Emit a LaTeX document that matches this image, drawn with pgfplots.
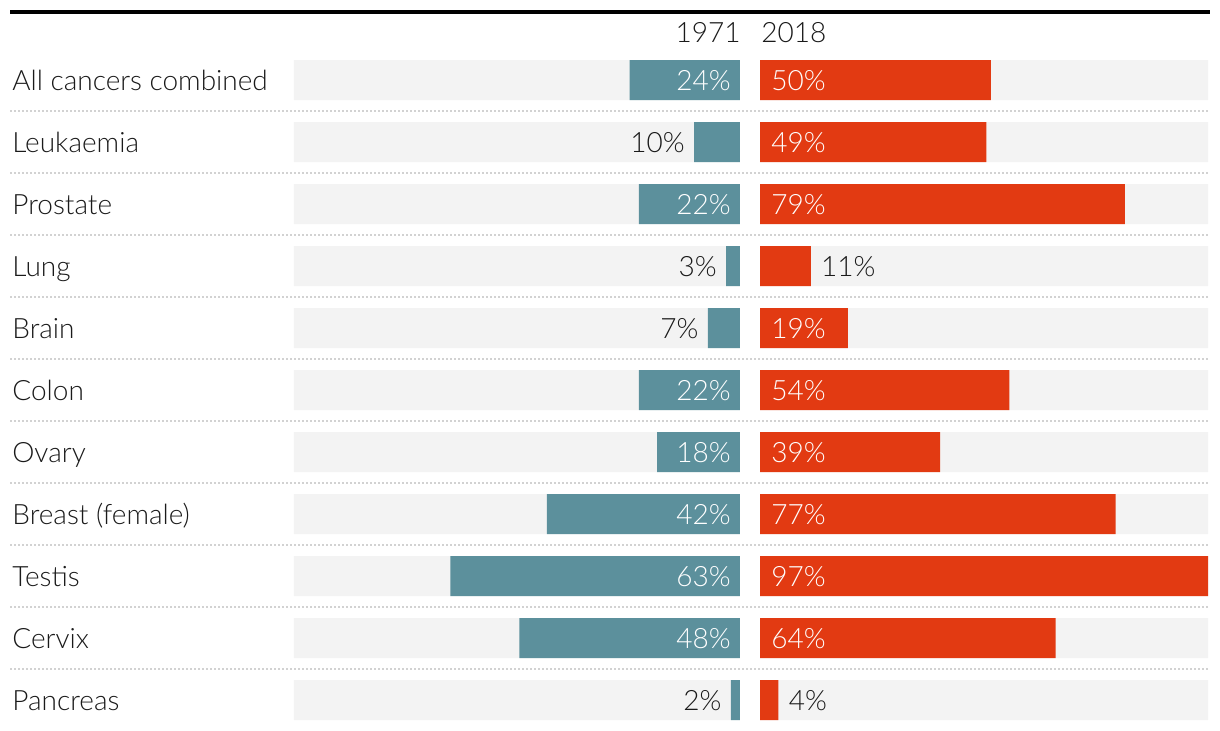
\documentclass[border=0pt]{standalone}
\usepackage{fontspec}
\setmainfont{Lato Light}
\usepackage{pgfplots}
\usepackage{pgfplotstable}
\pgfplotsset{compat=1.18}
\definecolor{teal71}{HTML}{5C909C}
\definecolor{red18}{HTML}{E23A12}
\definecolor{bgbar}{HTML}{F3F3F3}
\definecolor{sepc}{HTML}{D2D2D2}
\definecolor{txt}{HTML}{1A1A1A}
\newcommand{\lf}{\fontsize{14}{16}\selectfont}

% values per category (idx 0 = top row)
\pgfplotstableread{
idx v71 v18
0 24 50
1 10 49
2 22 79
3 3 11
4 7 19
5 22 54
6 18 39
7 42 77
8 63 97
9 48 64
10 2 4
}\data
% 1971 labels inside / outside the bar
\pgfplotstableread{
idx v
0 24
2 22
5 22
6 18
7 42
8 63
9 48
}\leftin
\pgfplotstableread{
idx v
1 10
3 3
4 7
10 2
}\leftout
% 2018 labels inside / outside the bar
\pgfplotstableread{
idx v
0 50
1 49
2 79
4 19
5 54
6 39
7 77
8 97
9 64
}\rightin
\pgfplotstableread{
idx v
3 11
10 4
}\rightout

\pgfplotsset{
  hbar/.style={xbar, bar width=0.64516, bar shift=0pt, draw=none},
  panel/.style={scale only axis, y dir=reverse, ymin=-0.32258, ymax=10.32258,
    xmin=0, xmax=97, height=330pt, anchor=south west,
    axis line style={draw=none}, xtick=\empty, major tick length=0pt,
    tick style={draw=none}, clip=false},
  lab/.style={draw=none, mark=none, nodes near coords={\pgfplotspointmeta\%},
    point meta=explicit symbolic,
    every node near coord/.append style={font=\lf, inner sep=0pt, yshift=-5pt}},
}

\begin{document}
\begin{tikzpicture}
% base axis in pixel coordinates
\begin{axis}[at={(0pt,0pt)}, anchor=south west, scale only axis,
  width=610pt, height=365pt, xmin=0, xmax=1220, ymin=0, ymax=730,
  y dir=reverse, hide axis, clip=false]
  \draw[line width=2pt, black] (axis cs:10,12) -- (axis cs:1210,12);
  \foreach \yy in {111,173,235,297,359,421,483,545,607,669}{
    \edef\tmp{\noexpand\draw[sepc, line width=1pt, dash pattern=on 1pt off 1pt]
      (axis cs:10,\yy) -- (axis cs:1210,\yy);}\tmp
  }
  \node[anchor=base east, inner sep=0pt, font=\lf, text=txt] at (axis cs:741,42) {1971};
  \node[anchor=base west, inner sep=0pt, font=\lf, text=txt] at (axis cs:761,42) {2018};
\end{axis}

% 1971 panel (bars grow to the left)
\begin{axis}[panel, at={(147pt,5pt)}, width=223pt, x dir=reverse, ytick=\empty]
  \addplot[hbar, fill=bgbar] coordinates {(97,0) (97,1) (97,2) (97,3) (97,4) (97,5) (97,6) (97,7) (97,8) (97,9) (97,10)};
  \addplot[hbar, fill=teal71] table[x=v71, y=idx] {\data};
  \addplot[lab, every node near coord/.append style={anchor=base east, xshift=-4.5pt, text=white}]
    table[x expr=0, y=idx, meta=v] {\leftin};
  \addplot[lab, every node near coord/.append style={anchor=base east, xshift=-4.5pt, text=txt}]
    table[x=v, y=idx, meta=v] {\leftout};
\end{axis}

% 2018 panel
\begin{axis}[panel, at={(380pt,5pt)}, width=224pt,
  ytick={0,1,2,3,4,5,6,7,8,9,10},
  yticklabels={All cancers combined, Leukaemia, Prostate, Lung, Brain, Colon, Ovary, Breast (female), Testis, Cervix, Pancreas},
  yticklabel style={anchor=base west, inner sep=0pt, xshift=-374pt, yshift=-5pt, font=\lf, text=txt}]
  \addplot[hbar, fill=bgbar] coordinates {(97,0) (97,1) (97,2) (97,3) (97,4) (97,5) (97,6) (97,7) (97,8) (97,9) (97,10)};
  \addplot[hbar, fill=red18] table[x=v18, y=idx] {\data};
  \addplot[lab, every node near coord/.append style={anchor=base west, xshift=5.5pt, text=white}]
    table[x expr=0, y=idx, meta=v] {\rightin};
  \addplot[lab, every node near coord/.append style={anchor=base west, xshift=5pt, text=txt}]
    table[x=v, y=idx, meta=v] {\rightout};
\end{axis}
\pgfresetboundingbox
\path (0pt,0pt) rectangle (610pt,365pt);
\end{tikzpicture}
\end{document}
